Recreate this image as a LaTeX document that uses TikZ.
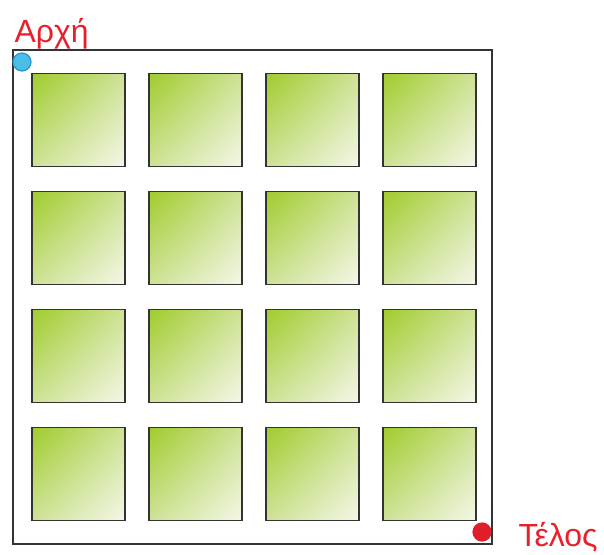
\documentclass[tikz,border=0pt]{standalone}
\usepackage{fontspec}
\setmainfont{Liberation Sans}
\usetikzlibrary{positioning,shadings}

\definecolor{leafgreen}{RGB}{160,204,45}
\definecolor{paleleaf}{RGB}{244,247,232}
\definecolor{midleaf}{RGB}{206,226,150}
\definecolor{labelred}{RGB}{232,32,42}
\definecolor{startblue}{RGB}{75,190,232}
\definecolor{startrim}{RGB}{40,150,205}
\definecolor{endred}{RGB}{222,30,40}

\begin{document}
\begin{tikzpicture}[x=1pt,y=-1pt,
  block/.style={draw=black!80,line width=1.8pt,minimum size=93pt,inner sep=0pt,
    upper left=leafgreen,upper right=midleaf,lower left=midleaf,lower right=paleleaf},
  marker/.style={circle,minimum size=18pt,inner sep=0pt,line width=1.2pt},
  caption/.style={text=labelred,anchor=base west,font=\fontsize{32}{38}\selectfont}]
  \useasboundingbox (0,0) rectangle (604,554);
  % outer frame
  \draw[line width=2pt,draw=black!80] (13,50) rectangle (492,544);
  % 4x4 blocks
  \foreach \i in {0,1,2,3}{
    \foreach \j in {0,1,2,3}{
      \node[block] (b\i\j) at (78.5+117*\i,120+118*\j) {};
    }
  }
  \node[marker,fill=startblue,draw=startrim] (start) at (22,62) {};
  \node[marker,fill=endred,draw=endred] (finish) at (482,532) {};
  \node[caption] (startlabel) at (11,42) {Αρχή};
  \node[caption] (finishlabel) at (515,546) {Τέλος};
\end{tikzpicture}
\end{document}
